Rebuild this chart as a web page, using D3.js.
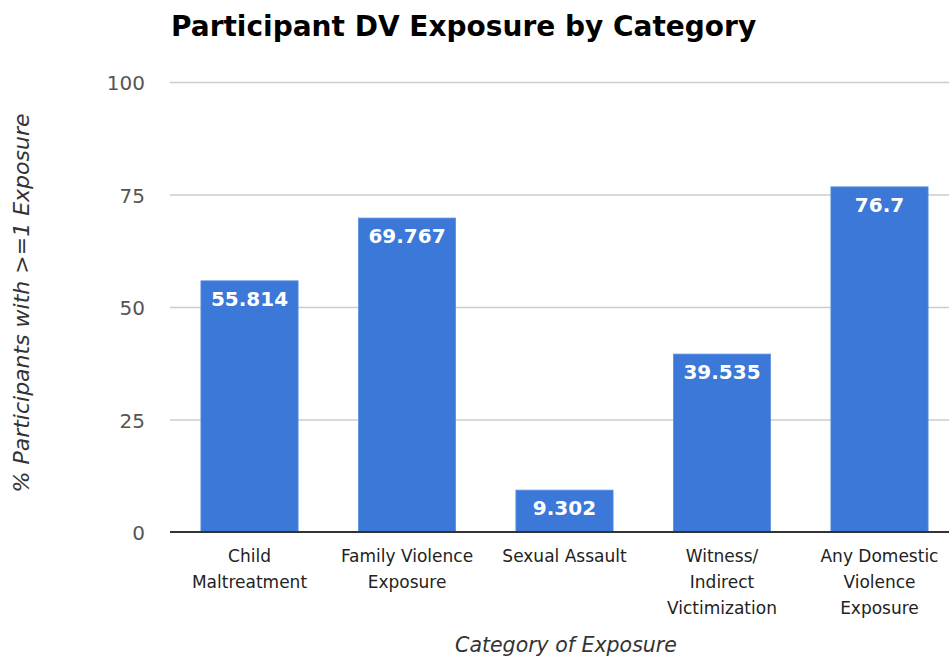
<!DOCTYPE html>
<html><head><meta charset="utf-8">
<script src="https://cdn.jsdelivr.net/npm/d3@7"></script>
<style>body{margin:0;background:#fff;} svg{display:block;}</style>
</head><body>
<svg id="c" width="949" height="658"></svg>
<script>
const categories = [["Child","Maltreatment"],["Family Violence","Exposure"],["Sexual Assault"],["Witness/","Indirect","Victimization"],["Any Domestic","Violence","Exposure"]];
const values = [55.814, 69.767, 9.302, 39.535, 76.7];
const valueLabels = ["55.814","69.767","9.302","39.535","76.7"];
const yTicks = [0, 25, 50, 75, 100];
const title = "Participant DV Exposure by Category";
const yTitle = "% Participants with >=1 Exposure";
const xTitle = "Category of Exposure";

const font = "'DejaVu Sans', sans-serif";
const svg = d3.select("#c");
const m = {left:171, right:-9};
const W = 949;
const x = d3.scaleBand().domain(d3.range(values.length)).range([m.left, W - m.right]).paddingInner(0.383).paddingOuter(0.19);
const y = d3.scaleLinear().domain([0,100]).range([532, 82]);

// gridlines
svg.append("g").selectAll("line").data(yTicks.filter(d=>d>0)).join("line")
  .attr("x1", m.left-1).attr("x2", W).attr("y1", d=>y(d)+0.5).attr("y2", d=>y(d)+0.5)
  .attr("stroke", "#cccccc").attr("stroke-width", 1.5);

// y tick labels
svg.append("g").selectAll("text").data(yTicks).join("text")
  .attr("x", 145).attr("y", d=>y(d)+8).attr("text-anchor","end")
  .attr("font-family", font).attr("font-size", 20).attr("fill","#555")
  .text(d=>d);

// bars
svg.append("g").selectAll("rect").data(values).join("rect")
  .attr("x", (d,i)=>x(i)).attr("width", x.bandwidth())
  .attr("y", d=>y(d)).attr("height", d=>y(0)-y(d))
  .attr("fill", "#3c78d8").attr("stroke","#5a8fe0").attr("stroke-width",0.8);

// baseline
svg.append("line").attr("x1", m.left-1).attr("x2", W).attr("y1", y(0)).attr("y2", y(0))
  .attr("stroke","#333").attr("stroke-width",1.8);

// value labels
svg.append("g").selectAll("text").data(values).join("text")
  .attr("x", (d,i)=>x(i)+x.bandwidth()/2).attr("y", d=>y(d)+25)
  .attr("text-anchor","middle").attr("font-family", font).attr("font-weight","bold")
  .attr("font-size", 20).attr("fill","#fff")
  .text((d,i)=>valueLabels[i]);

// x labels
const xl = svg.append("g").selectAll("text").data(categories).join("text")
  .attr("x", (d,i)=>x(i)+x.bandwidth()/2).attr("y", 562)
  .attr("text-anchor","middle").attr("font-family", font).attr("font-size", 17).attr("fill","#222");
xl.selectAll("tspan").data(d=>d).join("tspan")
  .attr("x", function(){return d3.select(this.parentNode).attr("x");})
  .attr("dy", (d,i)=> i===0 ? 0 : 26).text(d=>d);

// axis titles
svg.append("text").attr("x", 566).attr("y", 652).attr("text-anchor","middle")
  .attr("font-family", font).attr("font-style","italic").attr("font-size", 20.5).attr("fill","#333")
  .text(xTitle);
svg.append("text").attr("transform","translate(29,303) rotate(-90)").attr("text-anchor","middle")
  .attr("font-family", font).attr("font-style","italic").attr("font-size", 22).attr("fill","#333")
  .text(yTitle);

// title
svg.append("text").attr("x", 171).attr("y", 36)
  .attr("font-family", font).attr("font-weight","bold").attr("font-size", 28).attr("fill","#000")
  .text(title);
</script>
</body></html>
